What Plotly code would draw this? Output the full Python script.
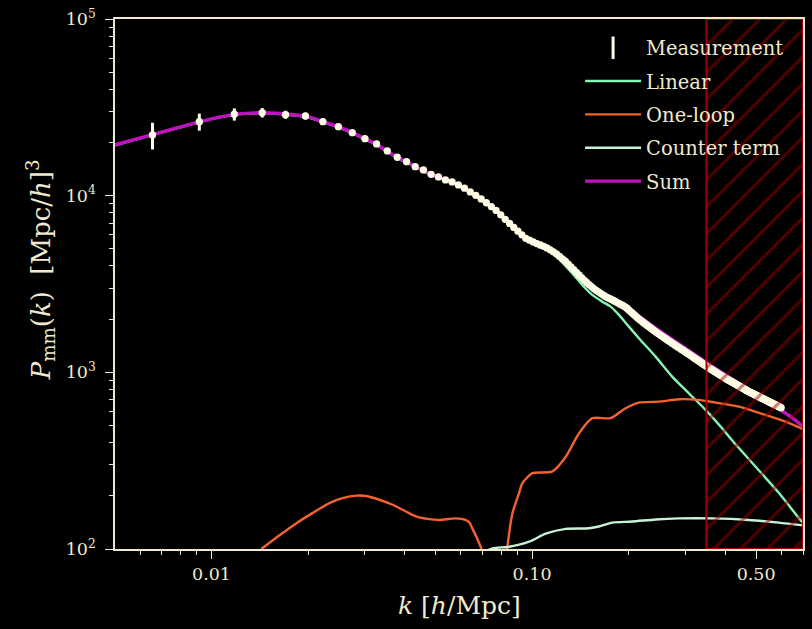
import numpy as np
import plotly.graph_objects as go

# ---------------- data ----------------
# measured matter power spectrum, linear k-bins of width dk = 2*pi/L_box
dk = 2 * np.pi / 2400.0
p_meas = [
    22060, 26240, 28890, 29510, 28730, 28250, 26240, 24580, 22730, 21020,
    19630, 17910, 16500, 15570, 14590, 13980, 13210, 12760, 12270,
    11960, 11510, 11020, 10505, 10050, 9590, 9120, 8670, 8245, 7786, 7345, 6963,
    6612, 6292, 6003, 5735, 5602, 5472, 5355, 5258, 5166, 5062,
    4934, 4812, 4688, 4535, 4391, 4256, 4102, 3954, 3814, 3681,
    3555, 3437, 3323, 3225, 3140, 3058, 2981, 2911, 2854, 2800,
    2747, 2697, 2656, 2620, 2585, 2551, 2518, 2482, 2448, 2414,
    2381, 2349, 2305, 2255, 2208, 2162, 2118, 2075, 2033, 1995,
    1962, 1930, 1898, 1868, 1838, 1810, 1782, 1755, 1728, 1703,
    1680, 1658, 1636, 1615, 1594, 1574, 1554, 1535, 1516, 1498,
    1480, 1462, 1445, 1429, 1413, 1398, 1383, 1368, 1353, 1339,
    1325, 1311, 1297, 1284, 1271, 1258, 1245, 1232, 1219, 1207,
    1195, 1183, 1171, 1159, 1148, 1137, 1126, 1115, 1105, 1095,
    1085, 1075, 1066, 1057, 1048, 1039, 1031, 1022, 1014, 1006,
    998, 990, 982, 975, 967, 960, 953, 946, 938, 931,
    925, 918, 912, 906, 900, 894, 888, 882, 877, 871,
    866, 860, 855, 849, 844, 839, 834, 829, 824, 819,
    814, 809, 804, 799, 795, 790, 785, 781, 776, 773,
    769, 765, 762, 758, 754, 751, 747, 743, 740, 736,
    733, 730, 726, 723, 719, 716, 713, 710, 707, 704,
    700, 697, 694, 691, 688, 685, 682, 679, 676, 673,
    671, 668, 665, 662, 659, 657, 654, 651, 649, 646,
    644, 641, 638, 636, 633, 631,
]
# 1-sigma errors of the lowest bins (negligible beyond)
p_meas_err_lowk = [3800, 2900, 2300, 1800, 1500, 1200, 900, 750, 620, 520, 440, 380]

k_meas = (np.arange(len(p_meas)) + 2.5) * dk
p_meas_err = p_meas_err_lowk + [0] * (len(p_meas) - len(p_meas_err_lowk))

# linear theory
k_lin = [0.005, 0.0065, 0.008, 0.010, 0.012, 0.014, 0.016, 0.018, 0.020, 0.0225,
         0.025, 0.0275, 0.030, 0.0325, 0.035, 0.038, 0.041, 0.044, 0.047, 0.050,
         0.055, 0.060, 0.065, 0.070, 0.075, 0.080, 0.085, 0.090, 0.095, 0.100,
         0.110, 0.120, 0.1332, 0.1434, 0.1541, 0.1656, 0.1759, 0.1866, 0.2004, 0.2154,
         0.2428, 0.2735, 0.3084, 0.3476, 0.3916, 0.4199, 0.4975, 0.5882, 0.6873, 0.70]
p_lin = [19300, 22000, 24400, 27100, 28850, 29300, 29100, 28500, 27800, 25900,
         24300, 22550, 20900, 19500, 17950, 16350, 15250, 14270, 13470, 12820,
         12030, 11200, 10300, 9420, 8600, 7780, 6970, 6300, 5760, 5450,
         5020, 4460, 3651, 3123, 2742, 2512, 2354, 2113, 1814, 1560,
         1227, 946, 761, 613, 483, 414, 293, 208, 146, 141]

# one-loop contribution
k_loop = [0.01431, 0.0163, 0.01841, 0.02064, 0.02331, 0.02564, 0.0283, 0.0304, 0.03337, 0.03671,
          0.04042, 0.04341, 0.04775, 0.05132, 0.05785, 0.0620, 0.0640, 0.0652, 0.0675, 0.0695,
          0.0705, 0.073, 0.080, 0.0826, 0.08375, 0.08681, 0.0911, 0.0933, 0.1002, 0.1154,
          0.1274, 0.1401, 0.1541, 0.1759, 0.1957, 0.2154, 0.2487, 0.2871, 0.3313, 0.3735,
          0.4414, 0.5346, 0.6170, 0.70]
p_loop = [100, 119.5, 140, 159.6, 182, 194, 200.5, 199.5, 190, 178,
          163, 153, 147.5, 146, 149, 146, 140, 130, 114, 100,
          88, 60, 55, 80, 103, 159, 208, 236, 269, 274,
          333, 452, 550, 550, 626, 674, 683, 704, 698, 674,
          640, 574, 526, 477]

# counter term
k_ct = [0.060, 0.068, 0.0750, 0.0848, 0.0979, 0.1103, 0.1274, 0.1505, 0.1617, 0.1779,
        0.2053, 0.2428, 0.2871, 0.3645, 0.4742, 0.588, 0.70]
p_ct = [80, 92, 100.6, 103, 110, 122, 130, 131, 134, 141,
        143, 147, 149, 149, 146, 141, 136]

# total model
k_sum = [0.005, 0.0065, 0.008, 0.010, 0.012, 0.014, 0.016, 0.018, 0.020, 0.0225,
         0.025, 0.0275, 0.030, 0.0325, 0.035, 0.038, 0.041, 0.044, 0.047, 0.050,
         0.055, 0.060, 0.065, 0.070, 0.075, 0.080, 0.085, 0.090, 0.095, 0.100,
         0.110, 0.120, 0.130, 0.140, 0.150, 0.160, 0.170, 0.180, 0.190, 0.200,
         0.220, 0.250, 0.300, 0.350, 0.400, 0.450, 0.500, 0.550, 0.600, 0.650, 0.700]
p_sum = [19400, 22100, 24500, 27200, 28950, 29450, 29300, 28700, 28000, 26100,
         24500, 22730, 21100, 19700, 18100, 16500, 15400, 14400, 13600, 12950,
         12150, 11300, 10350, 9450, 8600, 7770, 6970, 6330, 5800, 5510,
         5120, 4640, 4080, 3560, 3160, 2880, 2690, 2550, 2420, 2290,
         2030, 1715, 1375, 1135, 970, 850, 755, 680, 608, 550, 491]

# scale cut used in the fit
k_fit_max = 0.35
k_range = [0.005, 0.7]
p_range = [1e2, 1e5]

x_major = [0.01, 0.1, 0.5]
x_major_text = ["0.01", "0.10", "0.50"]
x_minor = [0.006, 0.007, 0.008, 0.009, 0.02, 0.03, 0.04, 0.05, 0.06, 0.07, 0.08, 0.09,
           0.2, 0.3, 0.4, 0.6, 0.7]
y_major = [1e2, 1e3, 1e4, 1e5]
y_major_text = ["10<sup>2</sup>", "10<sup>3</sup>", "10<sup>4</sup>", "10<sup>5</sup>"]
y_minor = [m * 10 ** e for e in (2, 3, 4) for m in range(2, 10)]

# ---------------- style ----------------
FG = "#efe9cf"
FONT = "DejaVu Serif"
C_MEAS = "#fffbe4"
C_LIN = "#86f2b4"
C_LOOP = "#f4622e"
C_CT = "#c6f3d8"
C_SUM = "#c010c0"
C_CUT = "#a00000"

fig = go.Figure()

fig.add_trace(go.Scatter(
    x=k_lin, y=p_lin, mode="lines", name="Linear", legendrank=2, legendgroup="b",
    line=dict(color=C_LIN, width=2.4, shape="spline", smoothing=0.7)))
fig.add_trace(go.Scatter(
    x=k_loop, y=p_loop, mode="lines", name="One-loop", legendrank=3, legendgroup="c",
    line=dict(color=C_LOOP, width=2.4, shape="spline", smoothing=0.6)))
fig.add_trace(go.Scatter(
    x=k_ct, y=p_ct, mode="lines", name="Counter term", legendrank=4, legendgroup="d",
    line=dict(color=C_CT, width=2.4, shape="spline", smoothing=0.7)))
fig.add_trace(go.Scatter(
    x=k_sum, y=p_sum, mode="lines", name="Sum", legendrank=5, legendgroup="e",
    line=dict(color=C_SUM, width=3.4, shape="spline", smoothing=0.7)))
fig.add_trace(go.Scatter(
    x=k_meas, y=p_meas, mode="markers", name="Measurement", showlegend=False,
    marker=dict(color=C_MEAS, size=7.3, line=dict(width=0)),
    error_y=dict(type="data", array=p_meas_err, color=C_MEAS, thickness=3, width=0)))
# legend key for the measurement: an error-bar glyph
fig.add_trace(go.Scatter(
    x=[None], y=[None], mode="markers", name="Measurement", legendrank=1, legendgroup="a",
    marker=dict(symbol="line-ns", size=16, color=C_MEAS, line=dict(color=C_MEAS, width=3))))

# hatched region above the fitted scale cut
fig.add_trace(go.Scatter(
    x=[k_fit_max, k_range[1], k_range[1], k_fit_max, k_fit_max],
    y=[p_range[0], p_range[0], p_range[1], p_range[1], p_range[0]],
    mode="lines", fill="toself", showlegend=False, hoverinfo="skip",
    fillcolor="rgba(0,0,0,0)",
    fillpattern=dict(shape="/", fgcolor=C_CUT, bgcolor="rgba(0,0,0,0)",
                     size=19, solidity=0.16),
    line=dict(color=C_CUT, width=2)))

axis_common = dict(
    showgrid=False, zeroline=False, showline=True, linecolor=FG, linewidth=1.5,
    mirror=True, ticks="outside", tickcolor=FG, tickwidth=1.3, ticklen=8,
    tickfont=dict(family=FONT, size=17.5, color=FG),
)

fig.update_xaxes(
    type="log", range=[np.log10(k_range[0]), np.log10(k_range[1])],
    tickmode="array", tickvals=x_major, ticktext=x_major_text,
    minor=dict(tickmode="array", tickvals=x_minor, ticks="outside", ticklen=4.5,
               tickcolor=FG, tickwidth=1.1),
    **axis_common)
fig.update_yaxes(
    type="log", range=[np.log10(p_range[0]), np.log10(p_range[1])],
    tickmode="array", tickvals=y_major, ticktext=y_major_text,
    minor=dict(tickmode="array", tickvals=y_minor, ticks="outside", ticklen=4.5,
               tickcolor=FG, tickwidth=1.1),
    ticklabelstandoff=6,
    **axis_common)

fig.update_layout(
    width=812, height=629,
    margin=dict(l=115, r=7, t=19, b=80),
    paper_bgcolor="black", plot_bgcolor="black",
    font=dict(family=FONT, color=FG),
    legend=dict(
        x=0.676, y=0.982, xanchor="left", yanchor="top",
        bgcolor="rgba(0,0,0,0)", borderwidth=0,
        font=dict(family=FONT, size=19.5, color=FG),
        tracegroupgap=5, itemwidth=56,
    ),
    annotations=[
        dict(text="<i>k</i> [<i>h</i>/Mpc]", xref="paper", yref="paper",
             x=0.5, y=0, yshift=-56, xanchor="center", yanchor="middle",
             showarrow=False, font=dict(family=FONT, size=25, color=FG)),
        dict(text="<i>P</i><sub>mm</sub>(<i>k</i>)  [Mpc/<i>h</i>]<sup>3</sup>",
             xref="paper", yref="paper", x=0, xshift=-75, y=0.526,
             xanchor="center", yanchor="middle", textangle=-90,
             showarrow=False, font=dict(family=FONT, size=26, color=FG)),
    ],
)

fig.write_html("out.html")
